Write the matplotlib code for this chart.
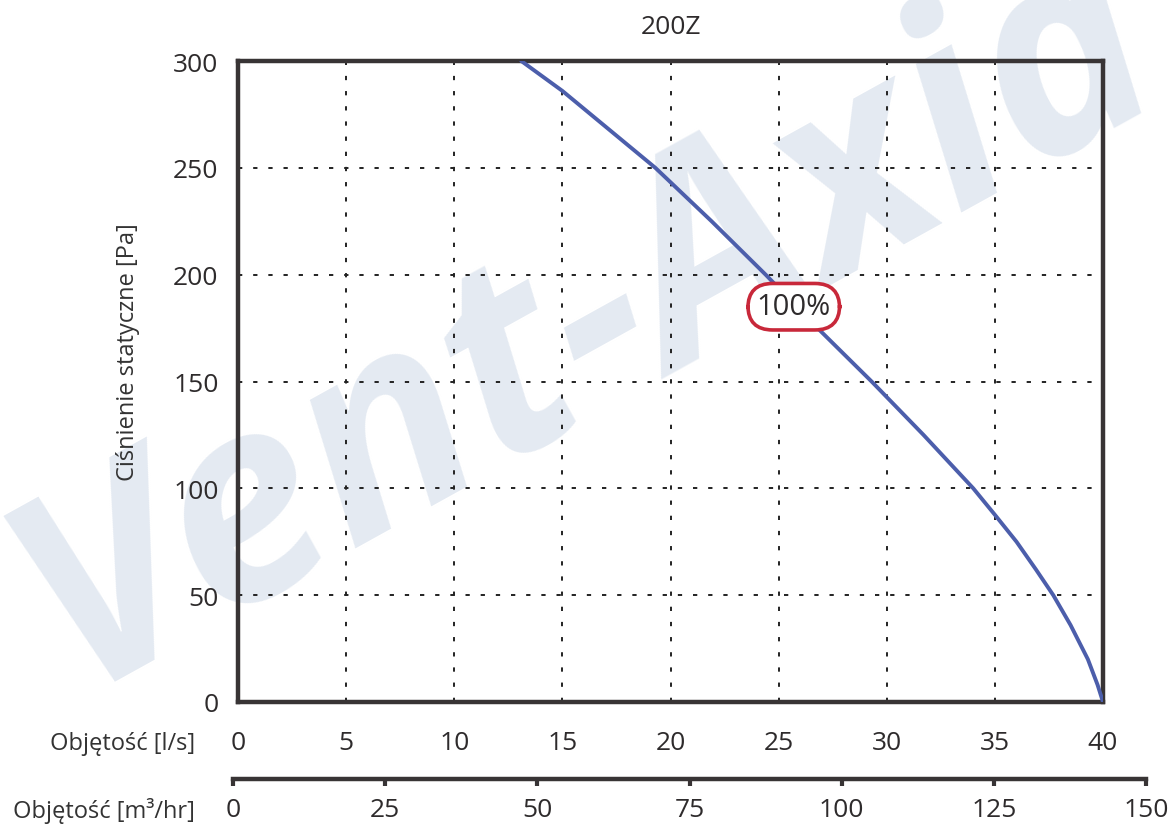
import matplotlib
matplotlib.use("Agg")
import matplotlib.pyplot as plt

# fan curve 200Z
flow_ls = [13.1, 15.0, 19.3, 21.9, 24.4, 26.8, 29.3, 31.7, 34.0, 35.05, 36.0, 36.9, 37.7, 38.5, 39.3, 39.75, 40.0]
pressure_pa = [300, 286, 250, 225, 200, 175, 150, 125, 100, 87, 75, 62, 50, 36, 20, 8, 0]

xticks_ls = [0, 5, 10, 15, 20, 25, 30, 35, 40]
yticks_pa = [0, 50, 100, 150, 200, 250, 300]
xticks_m3h = [0, 25, 50, 75, 100, 125, 150]

title = "200Z"
xlabel_ls = "Objętość [l/s]"
xlabel_m3h = "Objętość [m³/hr]"
ylabel = "Ciśnienie statyczne [Pa]"
curve_label = "100%"
label_pos = (25.7, 185)

plt.rcParams['font.family'] = ['Open Sans', 'DejaVu Sans']
W, H = 1175, 828
fig = plt.figure(figsize=(W / 100, H / 100), dpi=100)

# watermark behind the chart
fig.text(0.50, 0.61, "Vent-Axia", fontsize=200, fontweight='bold', fontstyle='italic',
         color='#e4eaf2', rotation=29, ha='center', va='center',
         rotation_mode='anchor', zorder=-5)

ax = fig.add_axes([238 / W, 1 - 703 / H, (1103 - 238) / W, (703 - 62) / H])
ax.patch.set_alpha(0)
ax.plot(flow_ls, pressure_pa, color='#4c5eab', lw=2.8, solid_capstyle='round',
        solid_joinstyle='round', zorder=3)
ax.set_xlim(0, 40)
ax.set_ylim(0, 300)
ax.set_xticks(xticks_ls)
ax.set_yticks(yticks_pa)
ax.grid(True, color='#222222', linestyle=(0, (2.2, 5.6)), lw=1.4)
ax.tick_params(length=0, labelsize=19, labelcolor='#2e2b2c')
ax.tick_params(axis='x', pad=20)
ax.tick_params(axis='y', pad=14)
for s in ax.spines.values():
    s.set_linewidth(3.2)
    s.set_color('#383435')
ax.set_title(title, fontsize=19, color='#2e2b2c', pad=20, fontweight='medium')

ax.text(*label_pos, curve_label, fontsize=21, color='#2e2b2c', ha='center', va='center',
        zorder=5,
        bbox=dict(boxstyle='round,pad=0.3,rounding_size=0.85', fc='white', ec='#c8283a', lw=2.6))

# second flow scale in m3/hr
ax2 = fig.add_axes([233 / W, 1 - 780 / H, (1146 - 233) / W, 0.0001])
ax2.set_xlim(0, 150)
ax2.set_xticks(xticks_m3h)
ax2.set_yticks([])
for k in ('top', 'left', 'right'):
    ax2.spines[k].set_visible(False)
ax2.spines['bottom'].set_linewidth(3.2)
ax2.spines['bottom'].set_color('#383435')
ax2.tick_params(axis='x', length=5, width=3, color='#383435', labelsize=19,
                labelcolor='#2e2b2c', pad=8)

fig.text(195 / W, 1 - 744 / H, xlabel_ls, fontsize=17, color='#333333', ha='right', va='center')
fig.text(195 / W, 1 - 811 / H, xlabel_m3h, fontsize=17, color='#333333', ha='right', va='center')
fig.text(128 / W, 1 - 352 / H, ylabel, fontsize=17, color='#333333', rotation=90,
         ha='center', va='center')

fig.savefig("out.png", dpi=100)
